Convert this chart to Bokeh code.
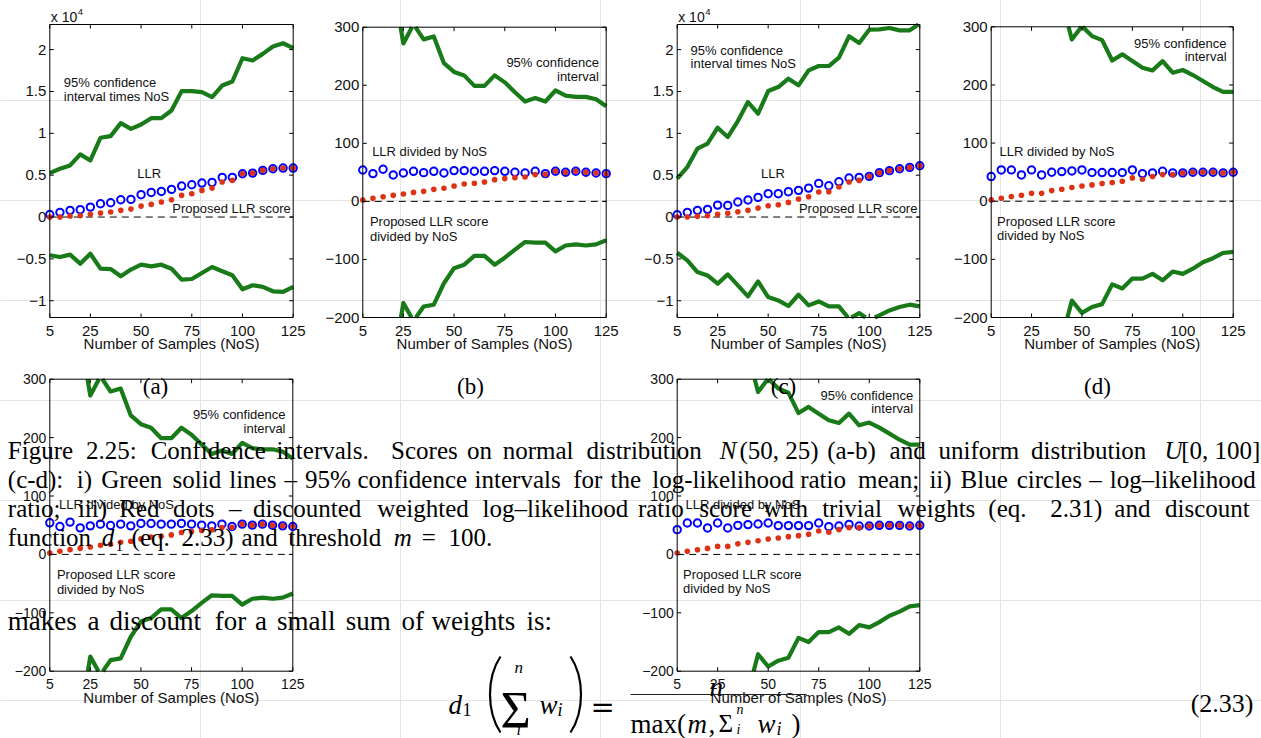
import numpy as np
from bokeh.plotting import figure
from bokeh.models import Range1d
from bokeh.embed import file_html
from bokeh.resources import INLINE
from bokeh.core.properties import value

# ------------------------------------------------------------------ data
NOS = [5, 10, 15, 20, 25, 30, 35, 40, 45, 50, 55, 60, 65, 70, 75, 80, 85, 90,
       95, 100, 105, 110, 115, 120, 125]

X_TICKS = [5, 25, 50, 75, 100, 125]
X_TICK_LABELS = ["5", "25", "50", "75", "100", "125"]
Y_TICKS_TOTAL = [-10000, -5000, 0, 5000, 10000, 15000, 20000]
Y_TICK_LABELS_TOTAL = ["\u22121", "\u22120.5", "0", "0.5", "1", "1.5", "2"]
Y_TICKS_MEAN = [-200, -100, 0, 100, 200, 300]
Y_TICK_LABELS_MEAN = ["\u2212200", "\u2212100", "0", "100", "200", "300"]
Y_RANGE_TOTAL = (-12000, 23000)
Y_RANGE_MEAN = (-200, 300)

# (a) normal distribution, totals
A_CI_UP = [5250, 5770, 6170, 7480, 6760, 9470, 9670, 11220, 10540, 11060, 11810, 11810,
           12730, 15040, 15040, 14920, 14320, 15710, 16190, 18970, 18700, 19490, 20370,
           20760, 20170]
A_CI_LO = [-4570, -4770, -4490, -5570, -4380, -6170, -6210, -7080, -6280, -5690, -5890,
           -5690, -6170, -7480, -7400, -6680, -5970, -6480, -6960, -8630, -8150, -8350,
           -8870, -8950, -8350]
A_LLR = [300, 560, 800, 880, 1190, 1590, 1710, 2070, 2110, 2670, 2940, 3060, 3300, 3700,
         3860, 4060, 4140, 4730, 4730, 5170, 5250, 5570, 5770, 5850, 5850]
A_PROP = [0, 0, 120, 160, 320, 480, 600, 800, 950, 1310, 1510, 1790, 2070, 2590, 2780,
          3180, 3460, 4180, 4380, 5170, 5250, 5570, 5770, 5850, 5850]

# (b) normal distribution, divided by NoS
B_CI_UP = [1050, 577, 411, 374, 272, 305, 279, 284, 238, 223, 217, 199, 199, 217, 205,
           188, 172, 178, 172, 191, 182, 180, 180, 176, 164]
B_CI_LO = [-914, -477, -299, -279, -175, -206, -181, -178, -141, -115, -109, -94, -94,
           -109, -97, -83, -70, -71, -71, -86, -76, -74, -76, -74, -67]
B_LLR = [54.1, 47.8, 55.3, 45.5, 48.9, 51.8, 49.5, 51.8, 48.9, 53.0, 53.0, 51.8, 51.8,
         53.0, 51.8, 50.1, 48.9, 51.8, 47.8, 51.8, 50.1, 51.8, 50.1, 48.9, 47.8]
B_PROP = [2.3, 5.2, 8.1, 10.4, 12.7, 15.5, 17.3, 20.7, 22.5, 26.5, 29.9, 31.1, 33.4,
          37.4, 39.2, 40.9, 42.0, 46.1, 46.6, 51.8, 50.1, 51.8, 50.1, 48.9, 47.8]

# (c) uniform distribution, totals
C_CI_UP = [4580, 5970, 8160, 8760, 10670, 9560, 11470, 13740, 12350, 15050, 15530, 16530,
           15730, 17520, 18040, 18040, 19040, 21590, 20790, 22380, 22420, 22580, 22300,
           22300, 23100]
C_CI_LO = [-4260, -5180, -6570, -6970, -7960, -6850, -8160, -9480, -7690, -9560, -9960,
           -10630, -9280, -10550, -10080, -10670, -10670, -12150, -11470, -12300, -11750,
           -11150, -10750, -10470, -10670]
C_LLR = [280, 560, 800, 920, 1430, 1390, 1790, 2030, 2350, 2790, 2790, 3030, 3190, 3460,
         4020, 3740, 4220, 4660, 4740, 4860, 5300, 5540, 5770, 5930, 6130]
C_PROP = [0, 0, 80, 160, 320, 440, 640, 800, 1080, 1350, 1470, 1750, 2150, 2430, 2990,
          3030, 3580, 4180, 4380, 4860, 5300, 5540, 5770, 5930, 6130]

# (d) uniform distribution, divided by NoS
D_CI_UP = [916, 597, 544, 438, 427, 319, 328, 344, 278, 301, 284, 277, 242, 252.6, 241,
           229.7, 225, 241, 221, 225.7, 217, 206.8, 196.4, 187.9, 187.9]
D_CI_LO = [-852, -518, -438, -349, -318, -228, -233, -237, -171, -192, -182, -177, -143,
           -150, -133, -133, -125, -136, -121, -125, -116, -105, -98, -89, -87]
D_LLR = [42.4, 53.8, 53.8, 45.2, 53.8, 45.2, 49.8, 51.0, 52.1, 53.8, 49.3, 49.3, 49.3,
         49.3, 53.8, 47.5, 48.7, 51.5, 48.7, 48.7, 49.8, 49.8, 49.8, 48.7, 49.8]
D_PROP = [2.3, 5.2, 8.0, 10.3, 13.7, 13.7, 18.3, 20.6, 23.5, 26.3, 28.1, 30.4, 32.1,
          34.4, 40.1, 37.8, 42.4, 45.8, 45.8, 48.7, 49.8, 49.8, 49.8, 48.7, 49.8]

# annotation texts
TXT_CI_TOTAL = ["95% confidence", "interval times NoS"]
TXT_CI_MEAN = ["95% confidence", "interval"]
TXT_LLR = "LLR"
TXT_LLR_MEAN = "LLR divided by NoS"
TXT_PROP = "Proposed LLR score"
TXT_PROP_MEAN = ["Proposed LLR score", "divided by NoS"]
X_LABEL = "Number of Samples (NoS)"
SUB_LABELS = ["(a)", "(b)", "(c)", "(d)"]

CAPTION_LINES = [
    ["Figure", "2.25:", "Confidence", "intervals.", "Scores", "on", "normal",
     "distribution", "_N_(50, 25)", "(a-b)", "and", "uniform", "distribution",
     "_U_[0, 100]"],
    ["(c-d):", "i)", "Green", "solid", "lines", "\u2013", "95%", "confidence",
     "intervals", "for", "the", "log-likelihood", "ratio", "mean;", "ii)", "Blue",
     "circles", "\u2013", "log\u2013likelihood"],
    ["ratio;", "iii)", "Red", "dots", "\u2013", "discounted", "weighted",
     "log\u2013likelihood", "ratio", "score", "with", "trivial", "weights", "(eq.",
     "2.31)", "and", "discount"],
    ["function", "_d_\u2081", "(eq.", "2.33)", "and", "threshold", "_m_", "=", "100."],
]
BODY_LINE = ["makes", "a", "discount", "for", "a", "small", "sum", "of", "weights", "is:"]
EQ_NUMBER = "(2.33)"

# ------------------------------------------------------------------ style / layout
GREEN = "#187a18"
BLUE = "#0000ff"
RED = "#dd3214"
SANS = value("Liberation Sans")
SERIF = value("Liberation Serif")
TICK_PX = 4

p = figure(width=1261, height=738, x_range=Range1d(0, 1261), y_range=Range1d(738, 0),
           output_backend="svg", toolbar_location=None, title=None,
           x_axis_location=None, y_axis_location=None,
           min_border=0, min_border_left=0, min_border_right=0,
           min_border_top=0, min_border_bottom=0)
p.outline_line_color = None
p.background_fill_color = "white"
p.border_fill_color = "white"


def clip_runs(xs, ys, lo, hi):
    px, py = [xs[0]], [ys[0]]
    for i in range(1, len(xs)):
        x0, y0, x1, y1 = xs[i - 1], ys[i - 1], xs[i], ys[i]
        ts = []
        for b in (lo, hi):
            if (y0 - b) * (y1 - b) < 0:
                ts.append((b - y0) / (y1 - y0))
        for t in sorted(ts):
            px.append(x0 + t * (x1 - x0))
            py.append(y0 + t * (y1 - y0))
        px.append(x1)
        py.append(y1)
    runs_x, runs_y, cx, cy = [], [], [], []
    eps = 1e-9 * (hi - lo)
    for j in range(len(px) - 1):
        my = 0.5 * (py[j] + py[j + 1])
        if lo - eps <= my <= hi + eps:
            if not cx:
                cx, cy = [px[j]], [py[j]]
            cx.append(px[j + 1])
            cy.append(py[j + 1])
        elif cx:
            runs_x.append(cx)
            runs_y.append(cy)
            cx, cy = [], []
    if cx:
        runs_x.append(cx)
        runs_y.append(cy)
    return runs_x, runs_y


def draw_panel(box, yr, yticks, ylabels, up, lo, llr, prop, notes, tick_fs=15,
               exponent=False):
    left, right, top, bottom = box
    y0, y1 = yr
    sub = p.subplot(x_source=Range1d(5, 125), y_source=Range1d(y0, y1),
                    x_target=Range1d(left, right), y_target=Range1d(bottom, top))
    tx = TICK_PX * 120.0 / (right - left)
    ty = TICK_PX * (y1 - y0) / (bottom - top)

    for series in (up, lo):
        rx, ry = clip_runs(NOS, series, y0, y1)
        sub.multi_line(xs=rx, ys=ry, line_color=GREEN, line_width=4.2,
                       line_join="round", line_cap="butt")
    sub.line(x=[5, 125], y=[0, 0], line_color="black", line_width=1, line_dash="7 5")
    sub.scatter(x=NOS, y=llr, marker="circle", size=7.4, fill_color=None,
                line_color=BLUE, line_width=2)
    sub.scatter(x=NOS, y=prop, marker="circle", size=5.6, fill_color=RED,
                line_color=None)

    # box and ticks
    sub.quad(left=[5], right=[125], bottom=[y0], top=[y1], fill_color=None,
             line_color="black", line_width=1)
    n = len(X_TICKS)
    sub.segment(x0=X_TICKS, y0=[y0] * n, x1=X_TICKS, y1=[y0 + ty] * n,
                line_color="black", line_width=1)
    sub.segment(x0=X_TICKS, y0=[y1] * n, x1=X_TICKS, y1=[y1 - ty] * n,
                line_color="black", line_width=1)
    m = len(yticks)
    sub.segment(x0=[5] * m, y0=yticks, x1=[5 + tx] * m, y1=yticks,
                line_color="black", line_width=1)
    sub.segment(x0=[125] * m, y0=yticks, x1=[125 - tx] * m, y1=yticks,
                line_color="black", line_width=1)

    # tick labels
    sub.text(x=X_TICKS, y=[y0] * n, text=X_TICK_LABELS, y_offset=13,
             text_align="center", text_baseline="middle", text_font=SANS,
             text_font_size=f"{tick_fs}px", text_color="#111111")
    sub.text(x=[5] * m, y=yticks, text=ylabels, x_offset=-3.5,
             text_align="right", text_baseline="middle", text_font=SANS,
             text_font_size=f"{tick_fs}px", text_color="#111111")
    sub.text(x=[65], y=[y0], text=[X_LABEL], y_offset=26, text_align="center",
             text_baseline="middle", text_font=SANS, text_font_size="15px",
             text_color="#111111")
    if exponent:
        sub.text(x=[5], y=[y1], text=["x 10"], x_offset=1, y_offset=-8,
                 text_align="left", text_baseline="middle", text_font=SANS,
                 text_font_size="14px", text_color="#111111")
        sub.text(x=[5], y=[y1], text=["4"], x_offset=28, y_offset=-13,
                 text_align="left", text_baseline="middle", text_font=SANS,
                 text_font_size="9.5px", text_color="#111111")

    # annotations
    for align in ("left", "right"):
        sel = [nt for nt in notes if nt[3] == align]
        if sel:
            sub.text(x=[s[0] for s in sel], y=[s[1] for s in sel],
                     text=[s[2] for s in sel], text_align=align,
                     text_baseline="middle", text_font=SANS, text_font_size="13px",
                     text_color="#111111")


NOTES_A = [(11.9, 16040, TXT_CI_TOTAL[0], "left"), (11.9, 14440, TXT_CI_TOTAL[1], "left"),
           (48.1, 5180, TXT_LLR, "left"), (65.4, 1000, TXT_PROP, "left")]
NOTES_C = [(11.6, 19900, TXT_CI_TOTAL[0], "left"), (11.6, 18330, TXT_CI_TOTAL[1], "left"),
           (46.5, 5180, TXT_LLR, "left"), (65.2, 1000, TXT_PROP, "left")]
NOTES_B = [(121.4, 239.5, TXT_CI_MEAN[0], "right"), (121.4, 214.8, TXT_CI_MEAN[1], "right"),
           (9.6, 85.7, TXT_LLR_MEAN, "left"), (8.5, -35.2, TXT_PROP_MEAN[0], "left"),
           (8.5, -60, TXT_PROP_MEAN[1], "left")]
NOTES_D = [(121.7, 272, TXT_CI_MEAN[0], "right"), (121.7, 249, TXT_CI_MEAN[1], "right"),
           (9.1, 85.7, TXT_LLR_MEAN, "left"), (7.9, -34.5, TXT_PROP_MEAN[0], "left"),
           (7.9, -59, TXT_PROP_MEAN[1], "left")]

# top row
draw_panel((49.3, 292.7, 24.0, 317.0), Y_RANGE_TOTAL, Y_TICKS_TOTAL, Y_TICK_LABELS_TOTAL,
           A_CI_UP, A_CI_LO, A_LLR, A_PROP, NOTES_A, exponent=True)
draw_panel((362.3, 605.7, 26.7, 317.0), Y_RANGE_MEAN, Y_TICKS_MEAN, Y_TICK_LABELS_MEAN,
           B_CI_UP, B_CI_LO, B_LLR, B_PROP, NOTES_B)
draw_panel((676.7, 919.3, 24.0, 317.0), Y_RANGE_TOTAL, Y_TICKS_TOTAL, Y_TICK_LABELS_TOTAL,
           C_CI_UP, C_CI_LO, C_LLR, C_PROP, NOTES_C, exponent=True)
draw_panel((990.7, 1232.7, 26.3, 317.0), Y_RANGE_MEAN, Y_TICKS_MEAN, Y_TICK_LABELS_MEAN,
           D_CI_UP, D_CI_LO, D_LLR, D_PROP, NOTES_D)
# repeated panels drawn over the caption area
draw_panel((49.3, 292.3, 378.7, 670.7), Y_RANGE_MEAN, Y_TICKS_MEAN, Y_TICK_LABELS_MEAN,
           B_CI_UP, B_CI_LO, B_LLR, B_PROP, NOTES_B, tick_fs=14)
draw_panel((676.7, 919.3, 378.7, 670.7), Y_RANGE_MEAN, Y_TICKS_MEAN, Y_TICK_LABELS_MEAN,
           D_CI_UP, D_CI_LO, D_LLR, D_PROP, NOTES_D, tick_fs=14)

# ------------------------------------------------------------------ text of the page
p.text(x=[155, 470, 783, 1097], y=[386] * 4, text=SUB_LABELS, text_align="center",
       text_baseline="alphabetic", text_font=SERIF, text_font_size="23px",
       text_color="black")

CM = {'a': .5, 'b': .556, 'c': .444, 'd': .556, 'e': .444, 'f': .306, 'g': .5, 'h': .556,
      'i': .278, 'j': .306, 'k': .528, 'l': .278, 'm': .833, 'n': .556, 'o': .5, 'p': .556,
      'q': .528, 'r': .392, 's': .394, 't': .389, 'u': .556, 'v': .528, 'w': .722,
      'x': .528, 'y': .528, 'z': .444, 'B': .708, 'C': .722, 'F': .653, 'G': .785,
      'N': .82, 'R': .736, 'S': .556, 'U': .7, '(': .389, ')': .389, '[': .278, ']': .278,
      ',': .278, '.': .278, ':': .278, ';': .278, '-': .333, '\u2013': .5, '%': .833,
      ' ': .167, '=': .778, '\u2081': .35}


def cm_width(s):
    return sum(CM.get(ch, 0.5) for ch in s.replace("_", ""))


def place_tokens(tokens, x0, baseline, metric, render, x1=None):
    widths = [cm_width(t) * metric for t in tokens]
    base = 0.333 * metric
    weights, extras = [], []
    for t in tokens[:-1]:
        last = t.replace("_", "")[-1]
        weights.append({".": 3, ":": 2, ";": 1.5, ",": 1.25}.get(last, 1))
        extras.append(0.111 * metric if last in ".:" else 0.0)
    unit = 0.0
    if x1 is not None:
        slack = (x1 - x0) - sum(widths) - sum(base + e for e in extras)
        unit = slack / sum(weights)
    out = {False: ([], []), True: ([], [])}
    x = x0
    for i, t in enumerate(tokens):
        cx = x
        for k, seg in enumerate(t.split("_")):
            if seg:
                out[k % 2 == 1][0].append(cx)
                out[k % 2 == 1][1].append(seg)
                cx += cm_width(seg) * metric
        if i < len(tokens) - 1:
            x += widths[i] + base + extras[i] + weights[i] * unit
    for ital, (xs, ts) in out.items():
        if xs:
            p.text(x=xs, y=[baseline] * len(xs), text=ts, text_align="left",
                   text_baseline="alphabetic", text_font=SERIF,
                   text_font_size=f"{render}px",
                   text_font_style="italic" if ital else "normal", text_color="black")


CAPTION_BASELINES = [449.5, 478.5, 507.5, 536.5]
for k, toks in enumerate(CAPTION_LINES):
    place_tokens(toks, 7.3, CAPTION_BASELINES[k], 24, 25,
                 x1=1252.7 if k < 3 else None)
place_tokens(BODY_LINE, 7.3, 620, 26.3, 27)

# display equation  d1( sum_i^n w_i ) = n / max(m, sum_i^n w_i)      (2.33)
EQ = [(448, 704, "d", 27, True), (462, 709, "1", 18, False),
      (500, 710, "\u03a3", 52, False), (514, 667, "n", 17, True),
      (516, 729, "i", 16, True), (539, 704, "w", 27, True), (557, 709, "i", 18, True),
      (709, 686, "n", 27, True), (630, 723, "max(", 27, False),
      (687, 723, "m", 27, True), (708, 723, ",", 27, False),
      (718, 723, "\u03a3", 25, False), (736, 709, "n", 14, True),
      (736, 729, "i", 14, True), (757, 723, "w", 27, True), (776, 728, "i", 18, True),
      (791, 723, ")", 27, False)]
for (ex, ey, et, es, ei) in EQ:
    p.text(x=[ex], y=[ey], text=[et], text_align="left", text_baseline="alphabetic",
           text_font=SERIF, text_font_size=f"{es}px",
           text_font_style="italic" if ei else "normal", text_color="black")
p.text(x=[590], y=[706], text=["="], text_align="left", text_baseline="alphabetic",
       text_font=value("DejaVu Serif"), text_font_size="29px", text_color="black")
p.text(x=[1253], y=[703], text=[EQ_NUMBER], text_align="right",
       text_baseline="alphabetic", text_font=SERIF, text_font_size="26px",
       text_color="black")
p.segment(x0=[630], y0=[694], x1=[806], y1=[694], line_color="#222222", line_width=1.2)
p.bezier(x0=[500, 570], y0=[656, 656], x1=[500, 570], y1=[732, 732],
         cx0=[486, 584], cy0=[677, 677], cx1=[486, 584], cy1=[711, 711],
         line_color="black", line_width=2.2)

open("out.html", "w").write(file_html(p, INLINE))
